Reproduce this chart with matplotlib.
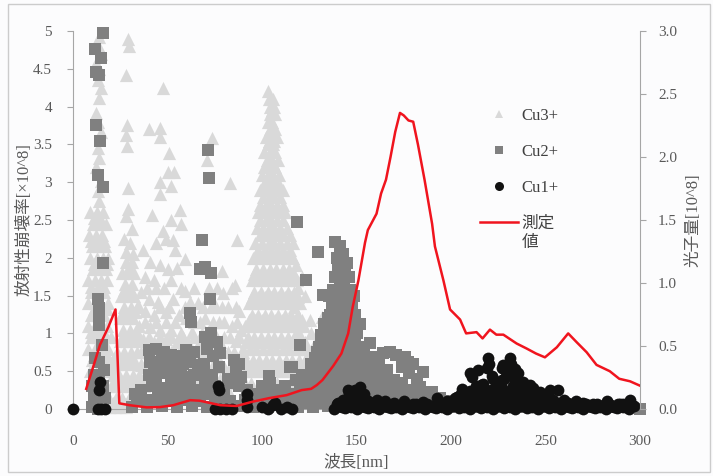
import matplotlib
matplotlib.use("Agg")
import matplotlib.pyplot as plt
from matplotlib.ticker import FuncFormatter, MultipleLocator
from matplotlib.patches import Rectangle
from matplotlib.lines import Line2D

plt.rcParams['font.family'] = ['Liberation Serif', 'Noto Sans CJK JP']

# ---------------- data (wavelength nm, rate x10^8) ----------------
# Cu3+ : first peak (~8-18 nm), dense rows
cu3_a_levels = [2.6, 2.52, 2.45, 2.3, 2.22, 2.15, 2.0, 1.92, 1.85, 1.7, 1.62, 1.55, 1.4, 1.32, 1.25, 1.1,
                1.02, 0.95, 0.8, 0.72, 0.65, 0.5]
cu3_a_rows = [[9, 12.5, 16], [11, 14.5], [10.5, 14, 17.5], [8.5, 12, 15.5], [9.5, 13, 16.5], [10, 13.5, 17],
              [9, 12.5, 16, 18.5], [11, 14.5, 18], [10.5, 14, 17.5], [8, 11.5, 15, 18], [9.5, 13, 16.5],
              [9.5, 13, 16.5], [8, 11.5, 15, 18.5], [11, 14.5, 18], [9.5, 13, 16.5], [8, 11.5, 15, 18],
              [9.5, 13, 16.5], [9.5, 13, 16.5, 20], [8, 11.5, 15, 18.5], [11, 14.5, 18], [10, 13.5, 17, 21],
              [9, 12.5, 16, 19.5, 23]]
cu3_a_top = [(14, 4.92), (13, 4.82), (15, 4.7), (12, 4.58), (14, 4.5), (13, 4.35), (15, 4.25), (14, 4.12),
             (12, 3.92), (13, 3.8), (15, 3.66), (13, 3.45), (14, 3.32), (12, 3.2), (15, 3.02), (13, 2.88),
             (14, 2.75)]
# Cu3+ : second peak (~24-33 nm)
cu3_b_levels = [1.95, 1.88, 1.8, 1.65, 1.58, 1.5, 1.35, 1.28, 1.2, 1.05, 0.98, 0.9, 0.75, 0.68, 0.6, 0.45,
                0.38, 0.3, 0.15, 0.08, 0.03]
cu3_b_rows = [[28, 31], [29.5], [26, 29.5, 32.5], [27.5, 31], [27, 30.5], [25.5, 29, 32.5], [27, 30.5, 34],
              [26.5, 30, 33], [25, 28.5, 32], [26.5, 30, 33.5], [27, 30.5, 34], [25, 28.5, 32, 35.5],
              [23.5, 27, 30.5, 34], [24.5, 28, 31.5], [22, 25.5, 29, 32.5, 36], [21, 24.5, 28, 31.5, 35, 38],
              [22, 25.5, 29, 32.5], [20, 23.5, 27, 30.5, 34, 37.5], [19, 22.5, 26, 29.5, 33, 36.5],
              [21, 24, 27, 30], [19, 22, 25, 28]]
cu3_b_top = [(29, 4.9), (29.5, 4.8), (28, 4.42), (28.5, 3.75), (28, 3.62), (28.5, 3.48), (29, 2.92),
             (29, 2.65), (28, 2.55), (31, 2.38), (27, 2.25), (30, 2.2), (28, 2.08), (31.5, 2.05)]
# Cu3+ : scattered region (~35-90 nm)
cu3_mid = [(47.6, 4.25), (40, 3.7), (46, 3.72), (46, 3.6), (51, 3.38), (50, 3.13), (53.7, 3.13), (46, 3.0),
           (52, 2.95), (46, 2.85), (42, 2.57), (56.6, 2.63), (52, 2.5), (57, 2.45), (47.6, 2.35), (44, 2.2),
           (53, 2.23), (49, 2.25), (54, 2.1), (59, 1.99), (37, 2.1), (41, 1.95), (46, 1.9), (50, 1.85),
           (55, 1.87), (38, 1.75), (43, 1.7), (52, 1.7), (59, 1.56), (48, 1.6), (36, 1.55), (40, 1.45),
           (45, 1.42), (53, 1.45), (62, 1.42), (66, 1.4), (38, 1.3), (43, 1.25), (49, 1.28), (56, 1.25),
           (60, 1.2), (70, 1.2), (35, 1.1), (41, 1.08), (46, 1.05), (52, 1.05), (57, 1.0), (63, 1.02),
           (68, 1.0), (74, 1.05), (37, 0.92), (43, 0.88), (49, 0.92), (55, 0.88), (61, 0.88), (66, 0.85),
           (72, 0.85), (78, 0.88), (36, 0.75), (58, 0.72), (64, 0.7), (70, 0.72), (76, 0.7), (82, 0.75),
           (36, 0.58), (61, 0.55), (67, 0.55), (74, 0.58), (80, 0.55), (85, 0.6), (64, 0.4), (78, 0.4),
           (83, 0.42), (88, 0.45), (70, 0.25), (82, 0.25), (73.4, 3.58), (70.7, 3.29), (83, 2.99),
           (86.6, 2.24), (78.7, 1.82), (85.5, 1.64), (79.5, 1.53), (75, 1.38), (82, 1.35), (88, 1.3),
           (72, 1.6), (77, 1.15), (84, 1.1), (89, 1.05), (80, 0.95), (86, 0.9)]
cu3_mid_levels = [1.6, 1.35, 1.15, 0.95, 0.75, 0.55, 0.35]
cu3_mid_rows = [[39, 44, 57, 64, 76, 84], [35, 46, 51, 59, 69, 73, 79, 86],
                [38, 44, 49, 54, 64, 67, 74, 80, 87], [35, 40, 46, 52, 58, 64, 69, 75, 83, 88],
                [39, 45, 52, 56, 61, 67, 73, 79, 85, 90], [38, 43, 48, 57, 64, 70, 77, 83, 89],
                [36, 44, 52, 60, 67, 73, 79, 86, 91]]
# Cu3+ : main spike (~90-125 nm)
cu3_d_levels = [4.2, 4.1, 4.0, 3.95, 3.9, 3.8, 3.7, 3.6, 3.55, 3.5, 3.4, 3.3, 3.25, 3.2, 3.1, 3.0, 2.95,
                2.9, 2.8, 2.7, 2.65, 2.6, 2.5, 2.4, 2.35, 2.3, 2.2, 2.1, 2.05, 2.0, 1.85, 1.78, 1.7, 1.55,
                1.48, 1.4, 1.25, 1.18, 1.1, 0.95, 0.88, 0.8, 0.65, 0.58, 0.5, 0.35]
cu3_d_rows = [[103], [103.5, 106], [104, 106.5], [105.5], [104, 107], [103, 105.5], [104, 107],
              [102, 105, 108], [103.5, 106.5], [103, 106], [101, 104, 107], [102.5, 105.5, 108.5],
              [103, 106], [101, 104, 107], [100, 103, 106, 109], [101.5, 104.5, 107.5],
              [100.5, 103.5, 106.5, 109.5], [99, 102, 105, 108, 111], [100.5, 103.5, 106.5, 109.5],
              [99, 102, 105, 108, 111], [101.5, 104.5, 107.5, 110.5], [98, 100.5, 103.5, 106.5, 109.5, 112],
              [99, 102, 105, 108, 111], [97.5, 100.5, 103.5, 106.5, 109.5, 113], [101, 104, 107, 110],
              [99, 102, 105, 108, 111, 115], [96.5, 100, 103.5, 106.5, 109.5, 113],
              [98, 101.5, 105, 108, 111, 115], [97, 100.5, 104, 107.5, 111, 114.5],
              [95.5, 99, 102.5, 106, 109.5, 113, 116.5], [97, 100.5, 104, 107.5, 111, 114.5],
              [96, 99.5, 103, 106.5, 110, 113.5, 117], [94.5, 98, 101.5, 105, 108.5, 112, 115.5, 118.5],
              [96, 99.5, 103, 106.5, 110, 113.5, 117], [94.5, 98, 101.5, 105, 108.5, 112, 115.5, 119],
              [93, 96.5, 100, 103.5, 107, 110.5, 114, 117.5, 120],
              [94.5, 98, 101.5, 105, 108.5, 112, 115.5, 119],
              [93, 96.5, 100, 103.5, 107, 110.5, 114, 117.5, 121],
              [91, 94.5, 98, 101.5, 105, 108.5, 112, 115.5, 119, 122],
              [92.5, 96, 99.5, 103, 106.5, 110, 113.5, 117, 120.5],
              [91.5, 95, 98.5, 102, 105.5, 109, 112.5, 116, 119.5, 123],
              [90, 93.5, 97, 100.5, 104, 107.5, 111, 114.5, 118, 121.5, 124],
              [91.5, 95, 98.5, 102, 105.5, 109, 112.5, 116, 119.5, 123],
              [90.5, 94, 97.5, 101, 104.5, 108, 111.5, 115, 118.5, 122],
              [89, 92.5, 96, 99.5, 103, 106.5, 110, 113.5, 117, 120.5, 124],
              [94, 101, 108, 115, 122]]
# Cu3+ : tail (~115-140 nm)
cu3_tail = [(116.6, 2.2), (118, 1.9), (121, 1.75), (119, 1.6), (123, 1.5), (117, 1.35), (125.4, 1.18),
            (131.6, 1.22), (126, 1.0), (132, 1.0), (128, 0.87), (125.8, 0.75), (119, 1.0), (134, 0.8),
            (130, 0.7), (136, 0.6), (122, 0.85), (128, 0.55)]

# Cu2+ : squares
cu2_column = [(16, 4.97), (11.6, 4.76), (14.8, 4.64), (12, 4.46), (14, 4.42), (12, 3.76), (14.3, 3.54),
              (13.4, 3.09), (16, 2.94), (16, 1.93), (13, 1.46), (13.7, 1.33), (14, 1.2), (13.5, 1.11),
              (15.2, 0.85), (11.6, 0.67), (14, 0.62), (16.5, 0.52), (11, 0.45), (14, 0.4), (10, 0.3),
              (13, 0.28), (16, 0.3), (11, 0.15), (14, 0.12), (17, 0.15), (10, 0.02), (13, 0.0), (16, 0.03)]
cu2_mid = [(71.6, 3.42), (72, 3.05), (68, 2.24), (67, 1.85), (70, 1.88), (73, 1.8), (72.5, 1.46), (62, 1.27),
           (62.5, 1.15), (118.3, 2.48), (123.3, 1.71), (120, 0.85), (103.9, 0.43), (116, 0.55),
           (129.8, 2.08), (132.4, 1.51), (136.9, 1.33)]
cu2_low = [(40, 0.78), (44, 0.8), (48, 0.76), (52, 0.72), (56, 0.7), (41, 0.62), (45, 0.6), (50, 0.58),
           (54, 0.55), (58, 0.6), (40, 0.45), (44, 0.42), (48, 0.48), (52, 0.4), (56, 0.38), (60, 0.42),
           (42, 0.3), (46, 0.28), (50, 0.25), (54, 0.28), (58, 0.22), (36, 0.25), (34, 0.15), (38, 0.12),
           (60, 0.78), (64, 0.75), (62, 0.62), (66, 0.58), (64, 0.45), (68, 0.5), (70, 0.95), (73, 1.0),
           (76, 0.88), (78, 0.74), (71, 0.8), (74, 0.7), (69.5, 0.6), (73.5, 0.45), (77, 0.55), (66.5, 0.5),
           (70, 0.35), (75, 0.3), (80, 0.25), (85, 0.65), (88, 0.6), (86, 0.5), (89, 0.42), (84, 0.35),
           (88, 0.3), (92, 0.25), (96, 0.2), (100, 0.3), (104, 0.35), (108, 0.25), (112, 0.3), (115, 0.56),
           (118, 0.38), (121, 0.45), (126, 0.5), (129, 0.75), (124, 0.3), (33, 0.2), (45, 0.18), (53, 0.15),
           (61, 0.2), (66, 0.25), (72, 0.2), (78, 0.15), (82, 0.4), (94, 0.12), (102, 0.18), (110, 0.15),
           (116, 0.2), (120, 0.25), (62, 0.32), (57, 0.5), (47, 0.65), (43, 0.55)]
cu2_peak = [(135, 1.2), (133, 1.04), (131.5, 0.9), (129, 0.69), (125.8, 0.6), (138.6, 2.21), (141.3, 2.15),
            (143, 2.05), (144.8, 1.93), (144, 1.82), (140, 1.85), (141.3, 1.68), (143.6, 1.6), (146.6, 1.57),
            (137.7, 1.57), (137, 1.35), (141.3, 1.31), (147.6, 1.35), (149.2, 1.24), (151.8, 1.13), (150, 1.0),
            (151, 0.82), (151.9, 0.69), (157, 0.87), (139, 1.45), (144, 1.45), (139, 1.2), (143, 1.18),
            (146, 1.15), (136, 1.05), (140, 1.05), (144, 1.02), (147, 1.05), (134, 0.9), (138, 0.9),
            (142, 0.88), (146, 0.9), (149, 0.9), (132, 0.75), (136, 0.75), (140, 0.72), (144, 0.75),
            (148, 0.72), (130, 0.6), (134, 0.6), (138, 0.58), (142, 0.6), (146, 0.58), (150, 0.55),
            (128, 0.45), (132, 0.45), (136, 0.42), (140, 0.45), (144, 0.42), (148, 0.45), (152, 0.4),
            (128, 0.3), (132, 0.3), (136, 0.28), (140, 0.3), (144, 0.28), (148, 0.3), (152, 0.28), (156, 0.3),
            (130, 0.15), (134, 0.15), (138, 0.15), (142, 0.15), (146, 0.15), (150, 0.15), (154, 0.15)]
cu2_fill_levels = [2.0, 1.75, 1.5, 1.25, 1.12, 0.98, 0.82, 0.68, 0.52, 0.38, 0.22, 0.08]
cu2_fill_rows = [[139.5, 142], [138.5, 142.5, 146], [135.5, 141.5, 148.5], [136, 140, 144.5, 148],
                 [133, 137.5, 141, 148.5], [131, 135, 138.5, 142, 145.5, 149],
                 [130, 133.5, 137, 140.5, 144, 147.5, 150.5, 154],
                 [128, 131.5, 135, 138.5, 142, 145.5, 149, 153, 156.5],
                 [126, 130, 134, 138, 142, 146, 150, 154, 158, 162],
                 [124, 128, 132, 136, 140, 144, 148, 152, 156, 160, 164, 168],
                 [122, 126, 130, 134, 138, 142, 146, 150, 154, 158, 162, 166, 172, 180],
                 [120, 124, 128, 132, 136, 140, 144, 148, 152, 156, 160, 164, 168, 172, 176, 180, 186, 192]]
cu2_right = [(155.4, 0.6), (159.8, 0.69), (164, 0.74), (167.7, 0.76), (171, 0.72), (175.7, 0.69), (162, 0.6),
             (166, 0.52), (174, 0.55), (158.7, 0.47), (178, 0.47), (170, 0.38), (177, 0.62), (180, 0.6),
             (185, 0.49), (183.6, 0.29), (190, 0.23), (156, 0.45), (162, 0.4), (166, 0.3), (174, 0.35),
             (182, 0.4), (158, 0.25), (164, 0.2), (170, 0.22), (178, 0.25), (186, 0.18), (194, 0.15),
             (198, 0.1), (160, 0.12), (168, 0.1), (176, 0.12), (184, 0.1), (190, 0.12)]
cu2_base_x = [31, 35, 39, 43, 47, 51, 55, 59, 63, 67, 71, 75, 79, 83, 87, 91, 95, 99, 103, 107, 111, 115,
              119, 123, 127, 131, 135, 139, 143, 147, 151, 155, 159, 163, 167, 171, 175, 179, 183, 187, 191,
              195, 199, 203, 207, 211, 215, 219, 223, 227, 231, 235, 239, 243, 247, 251, 255, 259, 263, 267,
              271, 275, 279, 283, 287, 291, 295, 300]
cu2_base_y = [0.03, 0.1, 0.02, 0.12, 0.04, 0.1, 0.02, 0.12, 0.04, 0.1, 0.03, 0.12, 0.02, 0.1, 0.04, 0.12,
              0.03, 0.1, 0.02, 0.12, 0.04, 0.1, 0.03, 0.12, 0.02, 0.1, 0.04, 0.12, 0.03, 0.1, 0.02, 0.08,
              0.03, 0.07, 0.02, 0.06, 0.03, 0.05, 0.02, 0.06, 0.03, 0.05, 0.02, 0.04, 0.02, 0.03, 0.02, 0.03,
              0.02, 0.03, 0.02, 0.03, 0.02, 0.03, 0.02, 0.03, 0.02, 0.03, 0.02, 0.03, 0.02, 0.03, 0.02, 0.03,
              0.02, 0.03, 0.02, 0.0]

# Cu1+ : circles
cu1_low = [(0, 0.0), (14.3, 0.36), (14, 0.25), (13, 0.0), (15, 0.0), (17, 0.0), (76.7, 0.3), (77, 0.25),
           (75, 0.0), (78, 0.0), (81, 0.0), (84, 0.0), (92, 0.2), (92, 0.12), (92, 0.03), (100, 0.03),
           (103, 0.0), (106, 0.05), (107, 0.08), (110, 0.0), (113, 0.02), (116, 0.0)]
cu1_base_x = [138, 141, 144, 147, 150, 153, 156, 159, 162, 165, 168, 171, 174, 177, 180, 183, 186, 189,
              192, 195, 198, 201, 204, 207, 210, 213, 216, 219, 222, 225, 228, 231, 234, 237, 240, 243, 246,
              249, 252, 255, 258, 261, 264, 267, 270, 273, 276, 279, 282, 285, 288, 291, 294, 297]
cu1_base_y = [0.0, 0.04, 0.01, 0.03, 0.0, 0.04, 0.01, 0.03, 0.0, 0.04, 0.01, 0.03, 0.0, 0.04, 0.01, 0.03,
              0.0, 0.04, 0.01, 0.03, 0.0, 0.04, 0.01, 0.03, 0.0, 0.04, 0.01, 0.03, 0.0, 0.04, 0.01, 0.03,
              0.0, 0.04, 0.01, 0.03, 0.0, 0.04, 0.01, 0.03, 0.0, 0.04, 0.01, 0.03, 0.0, 0.04, 0.01, 0.03,
              0.0, 0.04, 0.01, 0.03, 0.0, 0.04]
cu1_base2 = [(139.5, 0.06), (142.5, 0.02), (145.5, 0.07), (148.5, 0.03), (151.5, 0.06), (154.5, 0.02),
             (157.5, 0.07), (160.5, 0.03), (163.5, 0.06), (166.5, 0.02), (169.5, 0.07), (172.5, 0.03),
             (175.5, 0.06), (178.5, 0.02), (181.5, 0.07), (184.5, 0.03), (187.5, 0.06), (190.5, 0.02),
             (193.5, 0.07), (196.5, 0.03), (199.5, 0.06), (262.5, 0.02), (265.5, 0.07), (268.5, 0.03),
             (271.5, 0.06), (274.5, 0.02), (277.5, 0.07), (280.5, 0.03), (283.5, 0.06), (286.5, 0.02),
             (289.5, 0.07), (292.5, 0.03), (295.5, 0.06)]
cu1_scatter = [(145.7, 0.25), (151.9, 0.29), (152, 0.22), (148, 0.15), (155, 0.12), (161, 0.12), (158, 0.08),
               (165, 0.1), (170, 0.08), (175, 0.1), (180, 0.07), (185, 0.09), (192.4, 0.15), (195, 0.06),
               (198, 0.1), (205.6, 0.27), (210, 0.47), (211, 0.42), (214.4, 0.52), (216, 0.32), (219.7, 0.67),
               (220, 0.6), (221.5, 0.43), (226.8, 0.54), (227.9, 0.4), (231, 0.67), (232, 0.6), (230.6, 0.45),
               (234, 0.53), (235, 0.41), (218.9, 0.54), (222.4, 0.4), (217, 0.33), (227.7, 0.58),
               (228.4, 0.52), (226.8, 0.38), (235.6, 0.47), (233.8, 0.39), (238, 0.36), (239.8, 0.32),
               (241.6, 0.32), (243.4, 0.28), (247, 0.23), (252.4, 0.25), (256.8, 0.25), (260, 0.12),
               (266, 0.1), (275, 0.07), (282.4, 0.1), (288.6, 0.07), (294.7, 0.12), (202, 0.15), (206, 0.1),
               (209, 0.2), (212, 0.12), (215, 0.22), (218, 0.15), (221, 0.25), (224, 0.18), (227, 0.28),
               (230, 0.2), (233, 0.3), (236, 0.22), (239, 0.18), (242, 0.15), (245, 0.12), (248, 0.18),
               (251, 0.1), (254, 0.12), (257, 0.08), (213, 0.3), (224, 0.3), (236, 0.12), (205, 0.18),
               (229, 0.12), (247, 0.08), (270, 0.08), (278, 0.05), (285, 0.04), (291, 0.06), (200, 0.08),
               (140, 0.08), (143, 0.12), (147, 0.08), (150, 0.12), (153, 0.15), (156, 0.1), (159, 0.08),
               (146, 0.2), (149, 0.25), (154, 0.2)]
cu1_hump_levels = [0.08, 0.16, 0.24]
cu1_hump_rows = [[201, 204, 207, 210, 213, 216, 219, 222, 225, 228, 231, 234, 237, 240, 243, 246, 249, 252,
                  255, 258, 262],
                 [203, 208, 211, 214, 217, 220, 223, 226, 229, 232, 235, 238, 241, 244, 250],
                 [210, 214, 219, 223, 226, 231, 234, 237]]

# measured photon amount (right axis, x10^8)
meas_x = [7, 10.8, 14.3, 18.7, 22.5, 23.5, 24.5, 30, 39, 46, 53, 62, 67, 78, 86.6, 95, 104, 113, 121, 126,
          129, 132, 137.6, 142, 145.6, 148, 151, 154.5, 156, 160.6, 163, 165.6, 168, 170.5, 173, 175, 177.5,
          180, 182.5, 186, 190, 191.5, 196, 199.5, 204.8, 208, 213.5, 216.7, 220.6, 224, 227.7, 234.7, 240,
          245, 249.7, 256, 262, 266.5, 271.8, 277, 284, 289, 294.7, 300]
meas_y = [0.16, 0.34, 0.51, 0.65, 0.79, 0.44, 0.045, 0.03, 0.013, 0.015, 0.03, 0.07, 0.066, 0.03, 0.024,
          0.058, 0.087, 0.11, 0.15, 0.16, 0.19, 0.23, 0.34, 0.44, 0.6, 0.81, 1.02, 1.32, 1.42, 1.55, 1.71,
          1.82, 2.0, 2.2, 2.35, 2.33, 2.29, 2.28, 2.1, 1.82, 1.47, 1.29, 1.02, 0.79, 0.71, 0.6, 0.61, 0.56,
          0.63, 0.59, 0.59, 0.52, 0.48, 0.44, 0.41, 0.49, 0.6, 0.53, 0.45, 0.35, 0.30, 0.24, 0.22, 0.185]

labels = ["Cu3+", "Cu2+", "Cu1+", "測定"]
label_wrap = "値"
x_label = "波長[nm]"
y_label_left = "放射性崩壊率[×10^8]"
y_label_right = "光子量[10^8]"


def rows_to_xy(levels, rows):
    xs, ys = [], []
    for lv, row in zip(levels, rows):
        for x in row:
            xs.append(x)
            ys.append(lv)
    return xs, ys


def pairs_to_xy(*lists):
    xs, ys = [], []
    for lst in lists:
        for x, y in lst:
            xs.append(x)
            ys.append(y)
    return xs, ys


ax_, ay_ = rows_to_xy(cu3_a_levels, cu3_a_rows)
bx_, by_ = rows_to_xy(cu3_b_levels, cu3_b_rows)
mx_, my_ = rows_to_xy(cu3_mid_levels, cu3_mid_rows)
dx_, dy_ = rows_to_xy(cu3_d_levels, cu3_d_rows)
px_, py_ = pairs_to_xy(cu3_a_top, cu3_b_top, cu3_mid, cu3_tail)
cu3_x = ax_ + bx_ + mx_ + dx_ + px_
cu3_y = ay_ + by_ + my_ + dy_ + py_

sx_, sy_ = pairs_to_xy(cu2_column, cu2_mid, cu2_low, cu2_peak, cu2_right)
fx_, fy_ = rows_to_xy(cu2_fill_levels, cu2_fill_rows)
cu2_x = cu2_base_x + fx_ + sx_
cu2_y = cu2_base_y + fy_ + sy_

cx_, cy_ = pairs_to_xy(cu1_base2, cu1_low, cu1_scatter)
hx_, hy_ = rows_to_xy(cu1_hump_levels, cu1_hump_rows)
cu1_x = cu1_base_x + hx_ + cx_
cu1_y = cu1_base_y + hy_ + cy_

# ---------------- drawing ----------------
TXT = '#595959'
AXC = '#a6a6a6'
RED = '#f0141e'
fig = plt.figure(figsize=(7.13, 4.76), dpi=100, facecolor='#fcfcfd')
ax = fig.add_axes([73 / 713, 1 - 409 / 476, 567 / 713, 378 / 476])
ax.set_facecolor('none')

ax.scatter(cu3_x, cu3_y, marker='^', s=90, c='#d9d9d9', linewidths=0, clip_on=False, zorder=2)
ax.scatter(cu2_x, cu2_y, marker='s', s=66, c='#808080', linewidths=0, clip_on=False, zorder=3)
ax.scatter(cu1_x, cu1_y, marker='o', s=72, c='#111111', linewidths=0, clip_on=False, zorder=4)

ax.set_xlim(0, 300)
ax.set_ylim(0, 5)
ax.yaxis.set_major_locator(MultipleLocator(0.5))
ax.xaxis.set_major_locator(MultipleLocator(50))
ax.yaxis.set_major_formatter(FuncFormatter(lambda v, p: f"{v:g}"))
for s in ['top', 'right']:
    ax.spines[s].set_visible(False)
for s in ['left', 'bottom']:
    ax.spines[s].set_color(AXC)
    ax.spines[s].set_linewidth(0.8)
ax.tick_params(axis='x', length=0, pad=19, labelsize=11, labelcolor=TXT)
ax.tick_params(axis='y', direction='out', length=4, color=AXC, pad=11, labelsize=11, labelcolor=TXT)

ax2 = ax.twinx()
ax2.plot(meas_x, meas_y, color=RED, lw=1.8, zorder=5)
ax2.set_ylim(0, 3)
ax2.yaxis.set_major_locator(MultipleLocator(0.5))
ax2.yaxis.set_major_formatter(FuncFormatter(lambda v, p: f"{v:.1f}"))
for s in ['top', 'left', 'bottom']:
    ax2.spines[s].set_visible(False)
ax2.spines['right'].set_color(AXC)
ax2.spines['right'].set_linewidth(0.8)
ax2.tick_params(axis='y', direction='out', length=4, color=AXC, pad=9, labelsize=11, labelcolor=TXT)

ax.set_xlabel(x_label, fontsize=12, color=TXT)
ax.xaxis.set_label_coords(0.5, -0.123)
ax.set_ylabel(y_label_left, fontsize=12, color=TXT)
ax.yaxis.set_label_coords(-0.072, 0.5)
ax2.set_ylabel(y_label_right, fontsize=12, color=TXT)
ax2.yaxis.set_label_coords(1.081, 0.5)

handles = [Line2D([], [], ls='none', marker='^', ms=6, color='#d9d9d9', mew=0),
           Line2D([], [], ls='none', marker='s', ms=6, color='#808080', mew=0),
           Line2D([], [], ls='none', marker='o', ms=6.5, color='#111111', mew=0),
           Line2D([], [], color=RED, lw=1.8)]
leg = ax2.legend(handles, labels, loc='upper left', bbox_to_anchor=(0.691, 0.836), frameon=False,
                 fontsize=12, labelcolor='#404040', labelspacing=1.2, handlelength=2.3,
                 handletextpad=0.2)

# second line of the wrapped legend label, placed right under "測定"
fig.canvas.draw()
tb = leg.get_texts()[3].get_window_extent()
fig.text(tb.x0 / fig.bbox.width, (tb.y0 - 3) / fig.bbox.height, label_wrap, fontsize=12,
         color='#404040', ha='left', va='top')

fig.patches.append(Rectangle((8 / 713, 4 / 476), 702 / 713, 468 / 476, transform=fig.transFigure,
                             fill=False, edgecolor='#cccccc', lw=1.0))

fig.savefig('out.png', dpi=100, facecolor=fig.get_facecolor())
